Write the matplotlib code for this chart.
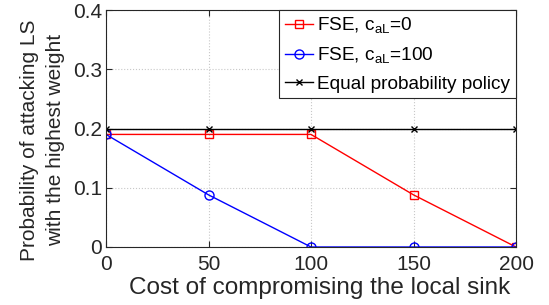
import numpy as np
import matplotlib.pyplot as plt

cost = [0, 50, 100, 150, 200]
fse_c0 = [0.19, 0.19, 0.19, 0.088, 0.0]
fse_c100 = [0.19, 0.088, 0.0, 0.0, 0.0]
equal_prob = [0.2, 0.2, 0.2, 0.2, 0.2]

plt.rcParams['font.family'] = ['Liberation Sans', 'DejaVu Sans']
plt.rcParams['mathtext.fontset'] = 'custom'
plt.rcParams['mathtext.rm'] = 'Liberation Sans'
txt = '#262626'

fig = plt.figure(figsize=(5.49, 3.05), dpi=100)
ax = fig.add_axes([106 / 549, 1 - 247 / 305, 410 / 549, 237 / 305])

ax.plot(cost, fse_c0, color='red', marker='s', markersize=5.5, mfc='none', lw=1.0,
        label=r'FSE, c$_{\mathregular{aL}}$=0')
ax.plot(cost, fse_c100, color='blue', marker='o', markersize=6.5, mfc='none', lw=1.0,
        label=r'FSE, c$_{\mathregular{aL}}$=100')
ax.plot(cost, equal_prob, color='black', marker='x', markersize=4, lw=1.0,
        label='Equal probability policy')

ax.set_xlim(0, 200)
ax.set_ylim(0, 0.4)
ax.set_xticks(cost)
ax.set_yticks([0, 0.1, 0.2, 0.3, 0.4])
ax.set_yticklabels(['0', '0.1', '0.2', '0.3', '0.4'])
ax.grid(True, linestyle=':', color='#c8c8c8', lw=0.8)
ax.tick_params(labelsize=15, colors=txt, direction='in', length=4, top=True, right=True)
ax.tick_params(axis='x', pad=6)
ax.tick_params(axis='y', pad=3)
for s in ax.spines.values():
    s.set_color('#262626')
    s.set_linewidth(0.8)

ax.set_xlabel('Cost of compromising the local sink', fontsize=17.5, color=txt)
ax.xaxis.set_label_coords(0.52, -0.125)
ax.set_ylabel('Probability of attacking LS\nwith the highest weight', fontsize=15,
              color=txt, linespacing=1.45)
ax.yaxis.set_label_coords(-0.1, 0.45)

leg = ax.legend(loc='upper right', fontsize=13.7, handlelength=1.5, handletextpad=0.2,
                borderaxespad=0, fancybox=False, framealpha=1, borderpad=0.3,
                labelspacing=0.5)
leg.get_frame().set_edgecolor('#262626')
leg.get_frame().set_linewidth(0.8)

fig.savefig('out.png', dpi=100)
